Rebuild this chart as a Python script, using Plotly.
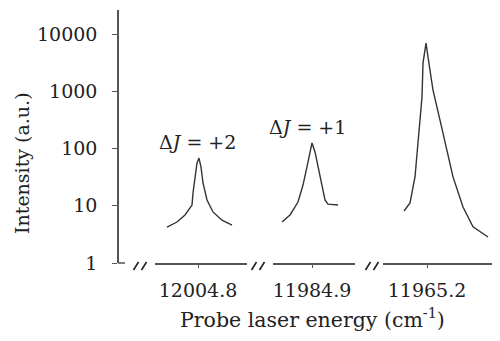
import plotly.graph_objects as go

# ---- data ----
tick_centers = [12004.8, 11984.9, 11965.2]
tick_labels = ["12004.8", "11984.9", "11965.2"]

# dJ = +2 band
x1 = [12004.955, 12004.905, 12004.865, 12004.830, 12004.825, 12004.815, 12004.805,
      12004.795, 12004.785, 12004.775, 12004.755, 12004.725, 12004.680, 12004.630]
y1 = [4.25, 5.2, 6.9, 10.3, 16.7, 31.8, 55.8, 68, 47.5, 25, 12.6, 7.8, 5.6, 4.6]

# dJ = +1 band
x2 = [11985.050, 11985.010, 11984.970, 11984.945, 11984.920, 11984.900, 11984.885,
      11984.860, 11984.835, 11984.820, 11984.770]
y2 = [5.2, 6.9, 11.6, 23, 58, 125, 87, 34, 12.6, 10.7, 10.3]

# main band
x3 = [11965.315, 11965.285, 11965.260, 11965.245, 11965.225, 11965.220, 11965.205,
      11965.195, 11965.170, 11965.135, 11965.100, 11965.070, 11965.020, 11964.970,
      11964.895]
y3 = [8.1, 11.2, 31.8, 141, 794, 3100, 6950, 3970, 1050, 314, 94, 32, 9.5, 4.3, 2.85]

y_ticks = [1, 10, 100, 1000, 10000]
y_tick_labels = ["1", "10", "100", "1000", "10000"]
band_labels = ["Δ<i>J</i> = +2", "Δ<i>J</i> = +1"]

# ---- layout geometry (page pixels; the page body adds an 8px offset) ----
OFF = 8
W, H = 500 - OFF, 341 - OFF
PL, PR, PT, PB = 118, 498, 10, 263        # plot area in page px
L, R, T, B = PL - OFF, OFF + W - PR, PT - OFF, OFF + H - PB
PW, PH = PR - PL, PB - PT

def px2paper_x(px):
    return (px - PL) / PW

def px2paper_y(py):
    return (PB - py) / PH

FONT = "DejaVu Serif"
LINE = "#333333"
AX = "#555555"
FS = 19

fig = go.Figure()
for i, (xs, ys) in enumerate([(x1, y1), (x2, y2), (x3, y3)]):
    fig.add_trace(go.Scatter(
        x=xs, y=ys, mode="lines",
        line=dict(color=LINE, width=1.4),
        xaxis="x" if i == 0 else f"x{i+1}", yaxis="y", showlegend=False,
        hoverinfo="skip"))

# segment domains (px) and ranges (reversed energy axis)
seg_px = [(155, 247, 198), (273, 355, 312), (383, 498, 427)]
scale = 0.005  # cm^-1 per pixel
axis_common = dict(showline=True, linecolor=AX, linewidth=1.5, ticks="outside",
                   ticklen=3, tickcolor=AX, showgrid=False, zeroline=False,
                   anchor="y", tickfont=dict(family=FONT, size=FS, color="#222"),
                   ticklabelstandoff=6)
layout_axes = {}
for i, ((a, b, c), ctr, lab) in enumerate(zip(seg_px, tick_centers, tick_labels)):
    name = "xaxis" if i == 0 else f"xaxis{i+1}"
    layout_axes[name] = dict(
        axis_common,
        domain=[px2paper_x(a), px2paper_x(b)],
        range=[ctr + (c - a) * scale, ctr - (b - c) * scale],
        tickvals=[ctr], ticktext=[lab])

fig.update_layout(
    width=W, height=H,
    margin=dict(l=L, r=R, t=T, b=B),
    plot_bgcolor="white", paper_bgcolor="white",
    yaxis=dict(type="log", range=[0, 4.42], tickvals=y_ticks, ticktext=y_tick_labels,
               showline=True, linecolor=AX, linewidth=1.5, ticks="outside", ticklen=5,
               tickcolor=AX, showgrid=False, zeroline=False, anchor="free", position=0,
               tickfont=dict(family=FONT, size=FS, color="#222"), ticklabelstandoff=11),
    **layout_axes)

# stub of x-axis next to the y-axis
shapes = [dict(type="line", xref="paper", yref="paper", x0=0, x1=px2paper_x(125),
               y0=0, y1=0, line=dict(color=AX, width=1.5))]
# break marks
for c in [140, 258, 372]:
    for dx in (-4, 4):
        cx = c + dx
        shapes.append(dict(type="line", xref="paper", yref="paper",
                           x0=px2paper_x(cx - 2.5), y0=px2paper_y(270),
                           x1=px2paper_x(cx + 2.5), y1=px2paper_y(262),
                           line=dict(color="#222", width=1.6)))
fig.update_layout(shapes=shapes)

annots = [
    dict(text=band_labels[0], x=px2paper_x(197), y=px2paper_y(142), size=FS),
    dict(text=band_labels[1], x=px2paper_x(307), y=px2paper_y(127), size=FS),
    dict(text="Probe laser energy (cm<sup>-1</sup>)", x=px2paper_x(312),
         y=px2paper_y(318), size=20.5),
    dict(text="Intensity (a.u.)", x=px2paper_x(22), y=px2paper_y(163),
         textangle=-90, size=19),
]
for a in annots:
    size = a.pop("size")
    fig.add_annotation(xref="paper", yref="paper", showarrow=False,
                       xanchor="center", yanchor="middle",
                       font=dict(family=FONT, size=size, color="#222"), **a)

fig.write_html("out.html")
